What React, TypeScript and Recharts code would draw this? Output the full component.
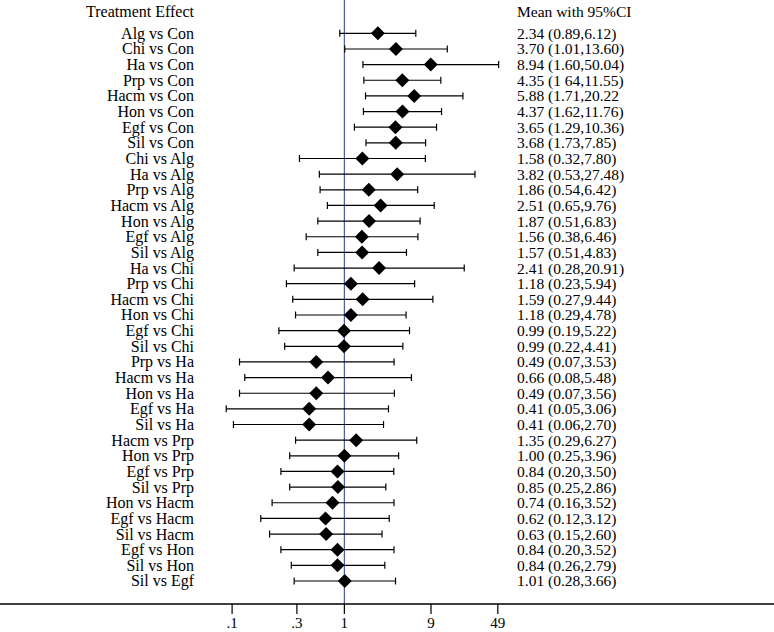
import React from "react";
import {
  ScatterChart,
  Scatter,
  XAxis,
  YAxis,
  ReferenceLine,
  ErrorBar,
  Customized,
} from "recharts";

const comparisons = [
  "Alg vs Con", "Chi vs Con", "Ha vs Con", "Prp vs Con", "Hacm vs Con", "Hon vs Con",
  "Egf vs Con", "Sil vs Con", "Chi vs Alg", "Ha vs Alg", "Prp vs Alg", "Hacm vs Alg",
  "Hon vs Alg", "Egf vs Alg", "Sil vs Alg", "Ha vs Chi", "Prp vs Chi", "Hacm vs Chi",
  "Hon vs Chi", "Egf vs Chi", "Sil vs Chi", "Prp vs Ha", "Hacm vs Ha", "Hon vs Ha",
  "Egf vs Ha", "Sil vs Ha", "Hacm vs Prp", "Hon vs Prp", "Egf vs Prp", "Sil vs Prp",
  "Hon vs Hacm", "Egf vs Hacm", "Sil vs Hacm", "Egf vs Hon", "Sil vs Hon", "Sil vs Egf",
];

const means = [
  2.34, 3.7, 8.94, 4.35, 5.88, 4.37, 3.65, 3.68, 1.58, 3.82, 1.86, 2.51,
  1.87, 1.56, 1.57, 2.41, 1.18, 1.59, 1.18, 0.99, 0.99, 0.49, 0.66, 0.49,
  0.41, 0.41, 1.35, 1.0, 0.84, 0.85, 0.74, 0.62, 0.63, 0.84, 0.84, 1.01,
];

const lows = [
  0.89, 1.01, 1.6, 1.64, 1.71, 1.62, 1.29, 1.73, 0.32, 0.53, 0.54, 0.65,
  0.51, 0.38, 0.51, 0.28, 0.23, 0.27, 0.29, 0.19, 0.22, 0.07, 0.08, 0.07,
  0.05, 0.06, 0.29, 0.25, 0.2, 0.25, 0.16, 0.12, 0.15, 0.2, 0.26, 0.28,
];

const highs = [
  6.12, 13.6, 50.04, 11.55, 20.22, 11.76, 10.36, 7.85, 7.8, 27.48, 6.42, 9.76,
  6.83, 6.46, 4.83, 20.91, 5.94, 9.44, 4.78, 5.22, 4.41, 3.53, 5.48, 3.56,
  3.06, 2.7, 6.27, 3.96, 3.5, 2.86, 3.52, 3.12, 2.6, 3.52, 2.79, 3.66,
];

// printed as in the source figure
const ciLabels = [
  "2.34 (0.89,6.12)", "3.70 (1.01,13.60)", "8.94 (1.60,50.04)", "4.35 (1 64,11.55)",
  "5.88 (1.71,20.22", "4.37 (1.62,11.76)", "3.65 (1.29,10.36)", "3.68 (1.73,7.85)",
  "1.58 (0.32,7.80)", "3.82 (0.53,27.48)", "1.86 (0.54,6.42)", "2.51 (0.65,9.76)",
  "1.87 (0.51,6.83)", "1.56 (0.38,6.46)", "1.57 (0.51,4.83)", "2.41 (0.28,20.91)",
  "1.18 (0.23,5.94)", "1.59 (0.27,9.44)", "1.18 (0.29,4.78)", "0.99 (0.19,5.22)",
  "0.99 (0.22,4.41)", "0.49 (0.07,3.53)", "0.66 (0.08,5.48)", "0.49 (0.07,3.56)",
  "0.41 (0.05,3.06)", "0.41 (0.06,2.70)", "1.35 (0.29,6.27)", "1.00 (0.25,3.96)",
  "0.84 (0.20,3.50)", "0.85 (0.25,2.86)", "0.74 (0.16,3.52)", "0.62 (0.12,3.12)",
  "0.63 (0.15,2.60)", "0.84 (0.20,3.52)", "0.84 (0.26,2.79)", "1.01 (0.28,3.66)",
];

const tickValues = [0.058, 0.3, 1, 9, 49];
const tickLabels = [".1", ".3", "1", "9", "49"];

const data = comparisons.map((name, i) => ({
  name,
  row: i,
  mean: means[i],
  err: [means[i] - lows[i], highs[i] - means[i]],
  ci: ciLabels[i],
}));

const FONT = "'Liberation Serif', 'DejaVu Serif', serif";
const LABEL_RIGHT = 194;
const CI_LEFT = 517;

function Diamond(props: any) {
  const { cx, cy, payload } = props;
  const r = 7;
  return (
    <g>
      <polygon
        points={`${cx - r},${cy} ${cx},${cy - r} ${cx + r},${cy} ${cx},${cy + r}`}
        fill="#000"
      />
      <text
        x={LABEL_RIGHT}
        y={cy}
        textAnchor="end"
        dominantBaseline="central"
        fontFamily={FONT}
        fontSize={16}
        fill="#000"
      >
        {payload.name}
      </text>
      <text
        x={CI_LEFT}
        y={cy}
        dominantBaseline="central"
        fontFamily={FONT}
        fontSize={15.5}
        fill="#000"
      >
        {payload.ci}
      </text>
    </g>
  );
}

function Headers() {
  return (
    <g fontFamily={FONT} fill="#000">
      <text x={LABEL_RIGHT} y={11} fontSize={16} textAnchor="end" dominantBaseline="central">
        Treatment Effect
      </text>
      <text x={CI_LEFT} y={11} fontSize={15.5} dominantBaseline="central">
        Mean with 95%CI
      </text>
    </g>
  );
}

export default function App() {
  return (
    <div style={{ position: "absolute", left: 0, top: 0, background: "#fff" }}>
      <ScatterChart
        width={774}
        height={632}
        margin={{ top: 0, right: 0, bottom: 0, left: 0 }}
      >
        <XAxis
          type="number"
          dataKey="mean"
          scale="log"
          domain={[0.000161, 54000]}
          allowDataOverflow
          ticks={tickValues}
          tickFormatter={(v: number) => tickLabels[tickValues.indexOf(v)] ?? ""}
          height={28}
          tickSize={10}
          tickMargin={3}
          axisLine={{ stroke: "#000", strokeWidth: 1.5 }}
          tickLine={{ stroke: "#000", strokeWidth: 1.2 }}
          tick={{ fill: "#000", fontSize: 15, fontFamily: FONT }}
          interval={0}
        />
        <YAxis
          type="number"
          dataKey="row"
          domain={[-2.13, 36.47]}
          reversed
          allowDataOverflow
          hide
        />
        <ReferenceLine x={1} stroke="#4a58a6" strokeWidth={1.2} />
        <Scatter data={data} shape={Diamond} isAnimationActive={false}>
          <ErrorBar
            dataKey="err"
            direction="x"
            width={3.5}
            stroke="#000"
            strokeWidth={1.2}
            isAnimationActive={false}
          />
        </Scatter>
        <Customized component={Headers} />
      </ScatterChart>
    </div>
  );
}
